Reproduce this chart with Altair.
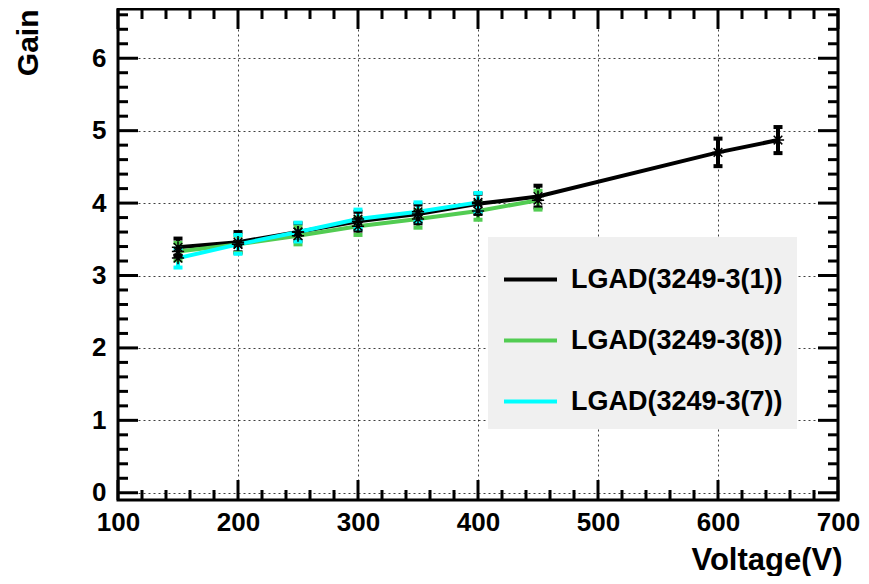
import altair as alt
import pandas as pd

# ---- data ----
SERIES = ["LGAD(3249-3(1))", "LGAD(3249-3(8))", "LGAD(3249-3(7))"]
COLORS = ["#000000", "#52cc52", "#00ffff"]

V1 = [150, 200, 250, 300, 350, 400, 450, 600, 650]
G1 = [3.39, 3.46, 3.60, 3.75, 3.85, 3.99, 4.09, 4.70, 4.87]
E1 = [0.12, 0.14, 0.12, 0.13, 0.13, 0.14, 0.15, 0.19, 0.18]

V8 = [150, 200, 250, 300, 350, 400, 450]
G8 = [3.33, 3.43, 3.55, 3.68, 3.78, 3.89, 4.04]
E8 = [0.12, 0.12, 0.12, 0.12, 0.12, 0.12, 0.13]

V7 = [150, 200, 250, 300, 350, 400]
G7 = [3.24, 3.43, 3.60, 3.78, 3.88, 4.01]
E7 = [0.13, 0.13, 0.13, 0.13, 0.13, 0.13]

X_MAJOR = [100, 200, 300, 400, 500, 600, 700]
X_MINOR = [120, 140, 160, 180, 220, 240, 260, 280, 320, 340, 360, 380,
           420, 440, 460, 480, 520, 540, 560, 580, 620, 640, 660, 680]
Y_MAJOR = [0, 1, 2, 3, 4, 5, 6]
Y_MINOR = [0.2, 0.4, 0.6, 0.8, 1.2, 1.4, 1.6, 1.8, 2.2, 2.4, 2.6, 2.8,
           3.2, 3.4, 3.6, 3.8, 4.2, 4.4, 4.6, 4.8, 5.2, 5.4, 5.6, 5.8,
           6.2, 6.4, 6.6]

X_DOMAIN = [100, 700]
Y_DOMAIN = [-0.1, 6.68]

W, H = 720, 491
FONT = "Liberation Sans"

rows = []
for name, vs, gs, es in [(SERIES[0], V1, G1, E1), (SERIES[1], V8, G8, E8), (SERIES[2], V7, G7, E7)]:
    for v, g, e in zip(vs, gs, es):
        rows.append({"series": name, "V": v, "G": g, "lo": g - e, "hi": g + e})
df = pd.DataFrame(rows)

xs = alt.Scale(domain=X_DOMAIN, nice=False, zero=False)
ys = alt.Scale(domain=Y_DOMAIN, nice=False, zero=False)
cs = alt.Scale(domain=SERIES, range=COLORS)

common = dict(domain=False, ticks=False, grid=True, gridColor="#000000",
              gridDash=[2, 3], gridWidth=1, gridOpacity=0.75,
              labelFont=FONT, labelFontWeight="bold", labelFontSize=26,
              labelColor="#000000", titleFont=FONT, titleFontWeight="bold",
              titleColor="#000000", labelOverlap=False)
xaxis = alt.Axis(values=X_MAJOR, title="Voltage(V)", titleAnchor="end",
                 titleAlign="right", titleX=W + 4, titleY=60, titleBaseline="middle",
                 titleFontSize=31, labelFlush=False, labelPadding=9, **common)
yaxis = alt.Axis(values=Y_MAJOR, title="Gain", titleAngle=-90, titleAlign="right",
                 titleX=-90, titleY=0, titleBaseline="middle", titleFontSize=30,
                 labelPadding=12, **common)

X = lambda f: alt.X(f, scale=xs, axis=xaxis)
Y = lambda f: alt.Y(f, scale=ys, axis=yaxis)

base = alt.Chart(df)

lines = base.mark_line(strokeWidth=4, clip=True).encode(
    x=X("V:Q"),
    y=Y("G:Q"),
    color=alt.Color("series:N", scale=cs, sort=SERIES,
                    legend=alt.Legend(title=None, orient="none", legendX=370, legendY=228,
                                      symbolType="stroke", symbolStrokeWidth=4,
                                      symbolSize=2809, labelOffset=12, rowPadding=19,
                                      padding=14, fillColor="#f0f0f0",
                                      labelFontSize=27, labelFont=FONT,
                                      labelFontWeight="bold", labelLimit=0,
                                      labelColor="#000000")),
    detail="series:N",
)

errs = base.mark_rule(strokeWidth=4, opacity=1).encode(
    x=X("V:Q"),
    y=Y("lo:Q"),
    y2="hi:Q",
    color=alt.Color("series:N", scale=cs, legend=None),
)
cap_lo = base.mark_tick(orient="horizontal", size=9, thickness=4, opacity=1).encode(
    x=X("V:Q"),
    y=Y("lo:Q"),
    color=alt.Color("series:N", scale=cs, legend=None),
)
cap_hi = base.mark_tick(orient="horizontal", size=9, thickness=4, opacity=1).encode(
    x=X("V:Q"),
    y=Y("hi:Q"),
    color=alt.Color("series:N", scale=cs, legend=None),
)

ASTER = "M-1,0L1,0M0,-1L0,1M-0.7,-0.7L0.7,0.7M-0.7,0.7L0.7,-0.7"
markers = base.mark_point(shape=ASTER, size=150, filled=False, strokeWidth=1.5,
                          color="#000000", opacity=1).encode(
    x=X("V:Q"),
    y=Y("G:Q"),
)

# ROOT-style inward ticks on all four sides
xmaj = pd.DataFrame({"V": X_MAJOR})
xmin = pd.DataFrame({"V": X_MINOR})
ymaj = pd.DataFrame({"G": Y_MAJOR})
ymin = pd.DataFrame({"G": Y_MINOR})


def xticks(d, length):
    bot = alt.Chart(d).mark_rule(strokeWidth=3, color="#000000").encode(
        x=X("V:Q"), y=alt.value(H), y2=alt.value(H - length))
    top = alt.Chart(d).mark_rule(strokeWidth=3, color="#000000").encode(
        x=X("V:Q"), y=alt.value(0), y2=alt.value(length))
    return [bot, top]


def yticks(d, length):
    left = alt.Chart(d).mark_rule(strokeWidth=3, color="#000000").encode(
        y=Y("G:Q"), x=alt.value(0), x2=alt.value(length))
    right = alt.Chart(d).mark_rule(strokeWidth=3, color="#000000").encode(
        y=Y("G:Q"), x=alt.value(W), x2=alt.value(W - length))
    return [left, right]


tick_layers = xticks(xmaj, 20) + xticks(xmin, 10) + yticks(ymaj, 20) + yticks(ymin, 10)

# plot frame
frame = alt.Chart(pd.DataFrame({"f": [0]})).mark_rect(
    filled=False, stroke="#000000", strokeWidth=3, fill=None
).encode(x=alt.value(0), x2=alt.value(W), y=alt.value(0), y2=alt.value(H))

chart = alt.layer(
    lines, errs, cap_lo, cap_hi, markers, *tick_layers, frame
).properties(
    width=W, height=H,
    background="#ffffff",
    autosize=alt.AutoSizeParams(type="none"),
    padding={"left": 110, "top": 1, "right": 23, "bottom": 76},
).configure_view(
    strokeWidth=0
)

chart.save("out.html", embed_options={"renderer": "svg", "actions": False})
